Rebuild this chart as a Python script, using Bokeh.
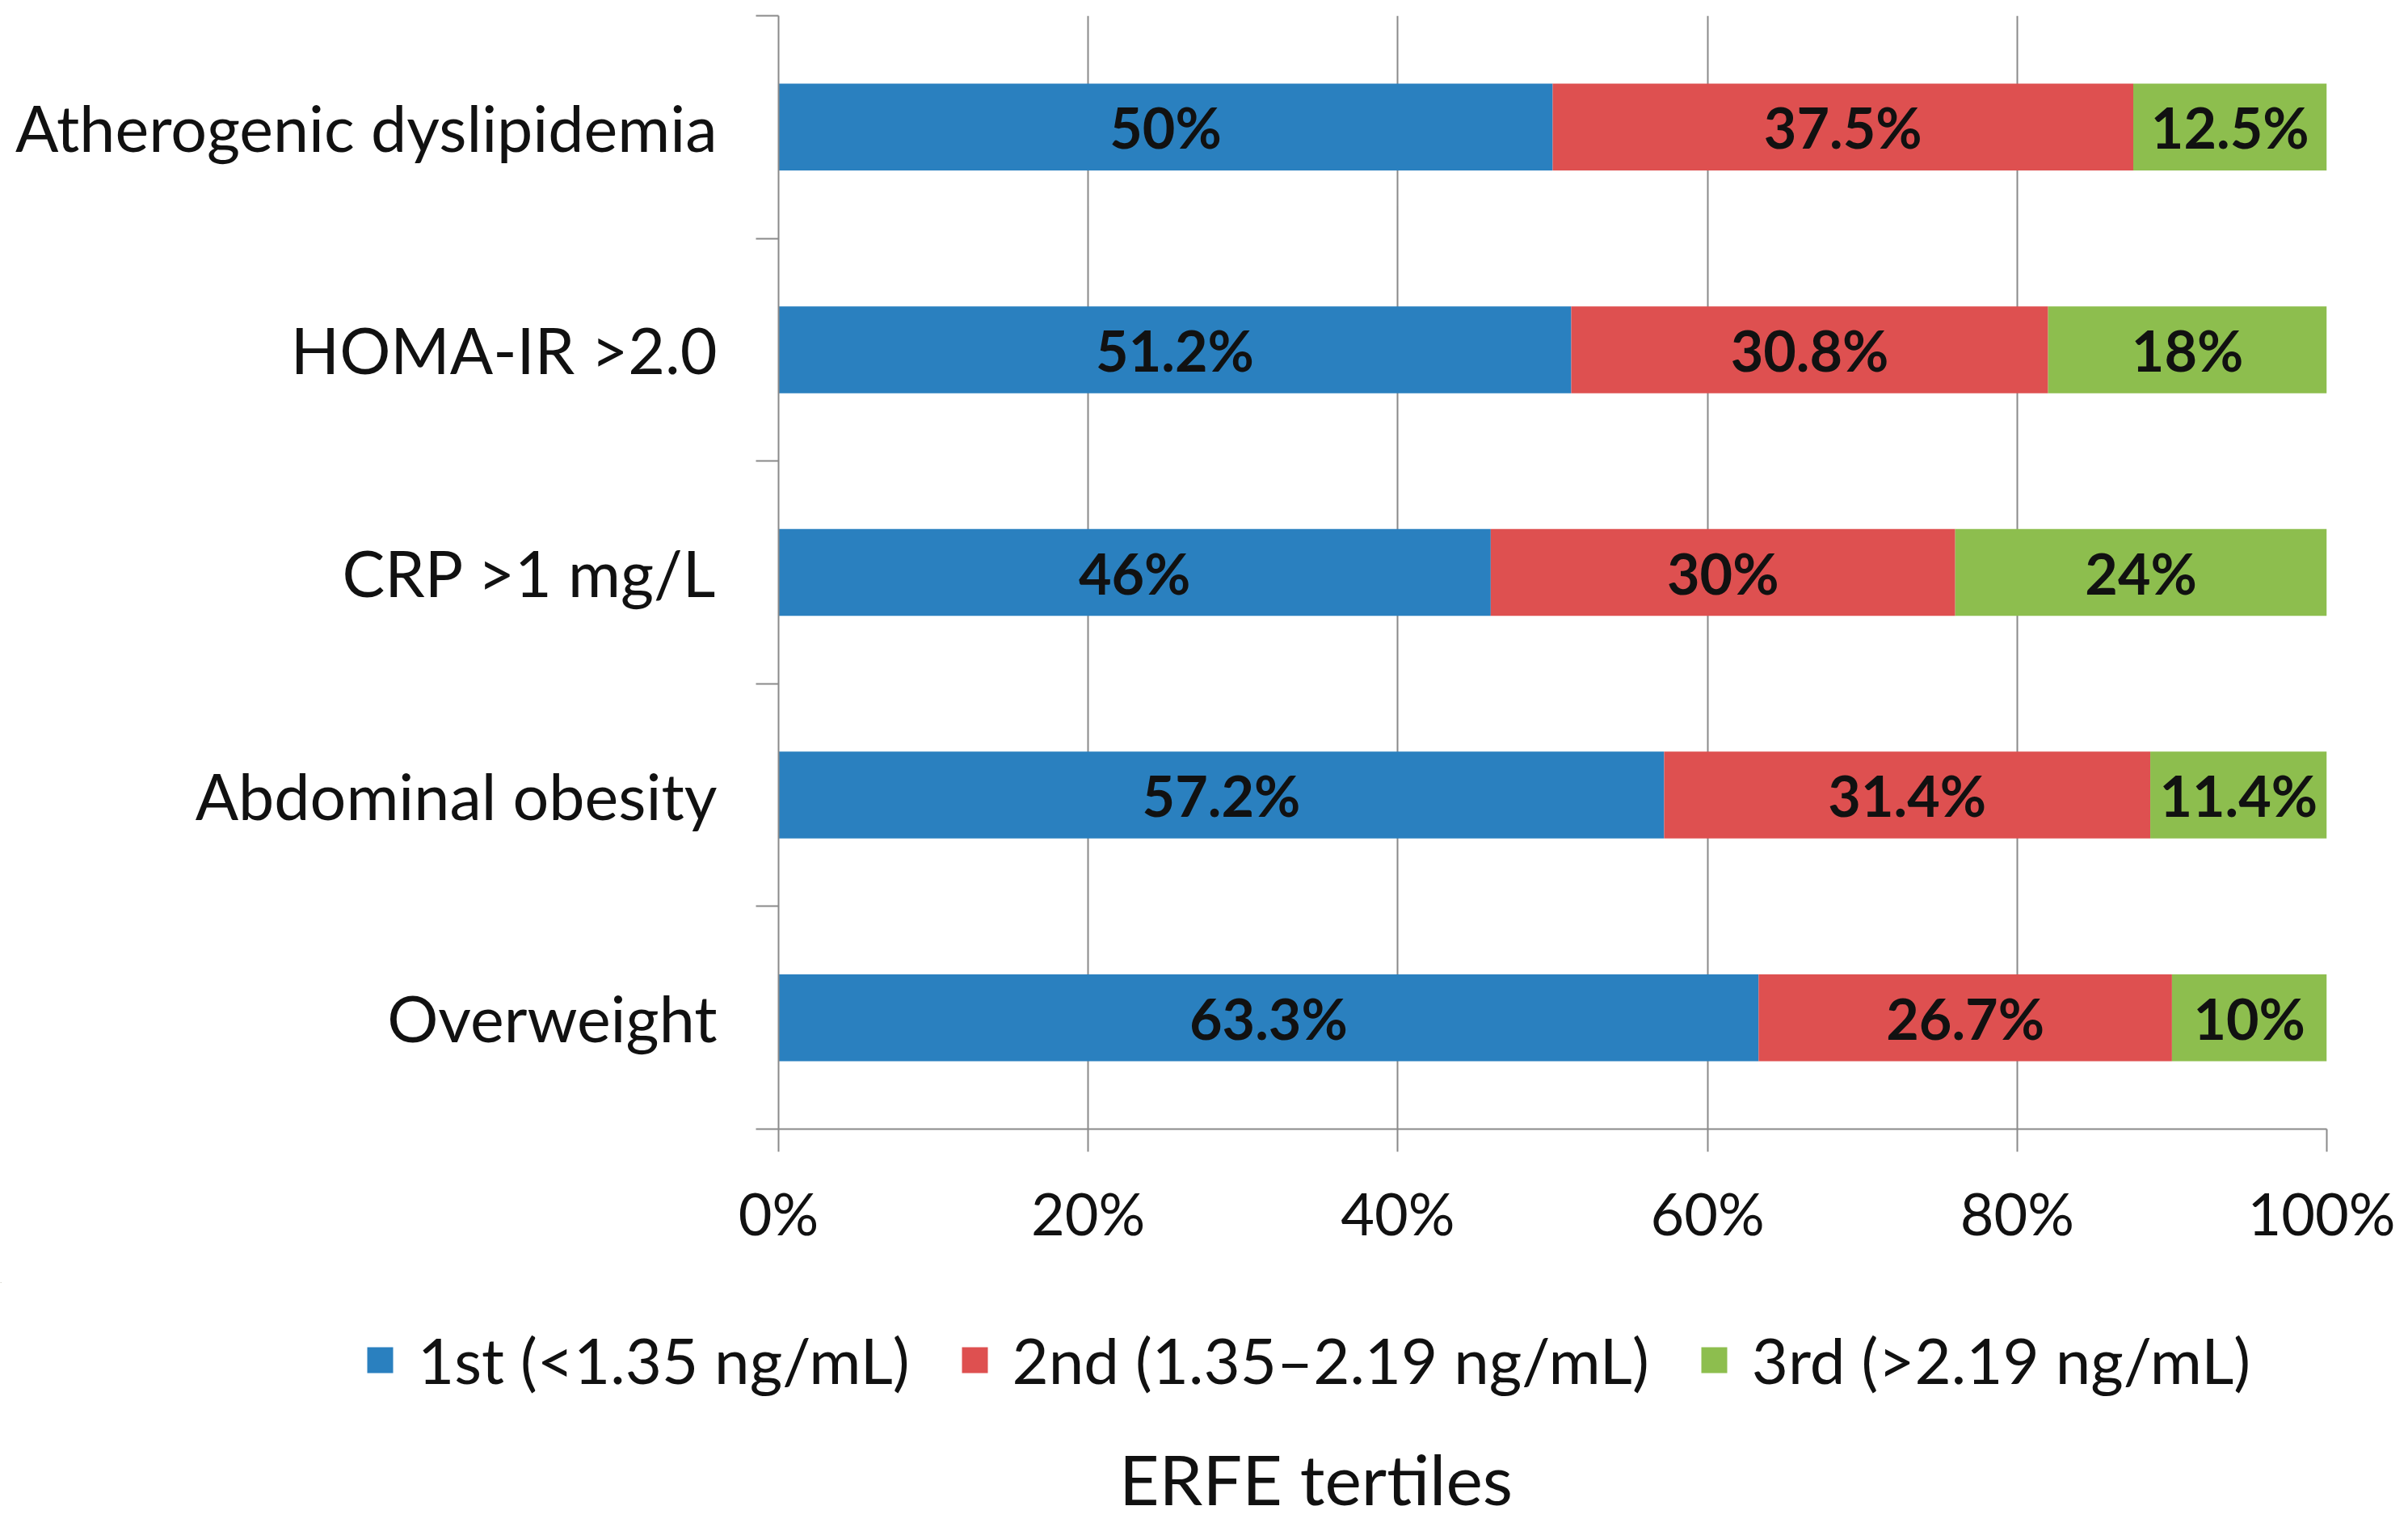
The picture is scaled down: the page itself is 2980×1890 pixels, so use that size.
from bokeh.plotting import figure
from bokeh.models import (Range1d, FixedTicker, PrintfTickFormatter, Legend, LegendItem,
                          Label, ColumnDataSource)
from bokeh.layouts import column, row
from bokeh.core.properties import value
from bokeh.embed import file_html
from bokeh.resources import INLINE

# ---- data (top to bottom as drawn) ----
categories = ["Atherogenic dyslipidemia", "HOMA-IR >2.0", "CRP >1 mg/L",
              "Abdominal obesity", "Overweight"]
first = [50, 51.2, 46, 57.2, 63.3]
second = [37.5, 30.8, 30, 31.4, 26.7]
third = [12.5, 18, 24, 11.4, 10]
series_names = ["1st (<1.35 ng/mL)", "2nd (1.35\u20132.19 ng/mL)", "3rd (>2.19 ng/mL)"]
colors = ["#2A80BF", "#DE5050", "#8DBE4E"]
x_ticks = [0, 20, 40, 60, 80, 100]
x_title = "ERFE tertiles"

FONT = "Lato"
GRAY = "#8A8A8A"
TXT = "#111111"

W = 2964
H_TOTAL = 1882
H1 = 1587
H2 = H_TOTAL - H1

n = len(categories)
ypos = [n - 1 - i for i in range(n)]

p = figure(width=W, height=H1, output_backend="svg", toolbar_location=None,
           x_range=Range1d(0, 100), y_range=Range1d(-0.5, n - 0.5),
           min_border_left=963, min_border_right=85, min_border_top=19,
           min_border_bottom=190)
p.outline_line_color = None

# grid
p.xgrid.ticker = FixedTicker(ticks=x_ticks)
p.xgrid.grid_line_color = GRAY
p.xgrid.grid_line_width = 2
p.ygrid.grid_line_color = None

# x axis
xa = p.xaxis[0]
xa.ticker = FixedTicker(ticks=x_ticks)
xa.formatter = PrintfTickFormatter(format="%d%%")
xa.axis_line_color = GRAY
xa.axis_line_width = 2
xa.major_tick_line_color = GRAY
xa.major_tick_line_width = 2
xa.major_tick_in = 0
xa.major_tick_out = 28
xa.minor_tick_line_color = None
xa.major_label_text_font = FONT
xa.major_label_text_font_size = "72px"
xa.major_label_text_color = TXT
xa.major_label_standoff = 32

# y axis (category labels at band centres, tick marks at band boundaries)
ya = p.yaxis[0]
ya.ticker = FixedTicker(ticks=ypos, minor_ticks=[v - 0.5 for v in range(n + 1)])
ya.major_label_overrides = {ypos[i]: categories[i] for i in range(n)}
ya.axis_line_color = GRAY
ya.axis_line_width = 2
ya.major_tick_line_color = None
ya.major_tick_in = 0
ya.major_tick_out = 0
ya.minor_tick_line_color = GRAY
ya.minor_tick_line_width = 2
ya.minor_tick_in = 0
ya.minor_tick_out = 28
ya.major_label_text_font = FONT
ya.major_label_text_font_size = "79px"
ya.major_label_text_color = TXT
ya.major_label_standoff = 48

# stacked bars
series = [first, second, third]
left = [0.0] * n
for s, vals in enumerate(series):
    right = [left[i] + vals[i] for i in range(n)]
    src = ColumnDataSource(dict(
        y=ypos, left=left, right=right,
        mid=[(left[i] + right[i]) / 2 for i in range(n)],
        lab=[f"{v:g}%" for v in vals]))
    p.hbar(y="y", left="left", right="right", height=0.39, source=src,
           fill_color=colors[s], line_color=None)
    p.text(x="mid", y="y", text="lab", source=src, text_align="center",
           text_baseline="middle", text_font=value(FONT), text_font_style="bold",
           text_font_size="70px", text_color=TXT)
    left = right

# ---- lower strip: legend and axis title ----
p2 = figure(width=W, height=H2, output_backend="svg", toolbar_location=None,
            x_range=Range1d(0, W), y_range=Range1d(H2, 0),
            x_axis_type=None, y_axis_type=None, min_border=0)
p2.outline_line_color = None
p2.xgrid.visible = False
p2.ygrid.visible = False

proxies = []
for s in range(3):
    proxies.append(p2.hbar(y=[-1000], left=[0], right=[1], height=1,
                           fill_color=colors[s], line_color=None))

legend = Legend(items=[LegendItem(label=series_names[i], renderers=[proxies[i]])
                       for i in range(3)],
                orientation="horizontal", location=(450, 152),
                glyph_width=40, glyph_height=40, label_standoff=27, spacing=60,
                padding=0, margin=0, border_line_color=None,
                background_fill_alpha=0, label_text_font=FONT,
                label_text_font_size="78px", label_text_color=TXT)
p2.add_layout(legend, "center")

title = Label(x=1628, y=242, text=x_title, text_align="center",
              text_baseline="middle", text_font=FONT, text_font_size="86px",
              text_color=TXT)
p2.add_layout(title)

layout = column(p, row(p2, spacing=0), spacing=0)
open("out.html", "w").write(file_html(layout, INLINE))
